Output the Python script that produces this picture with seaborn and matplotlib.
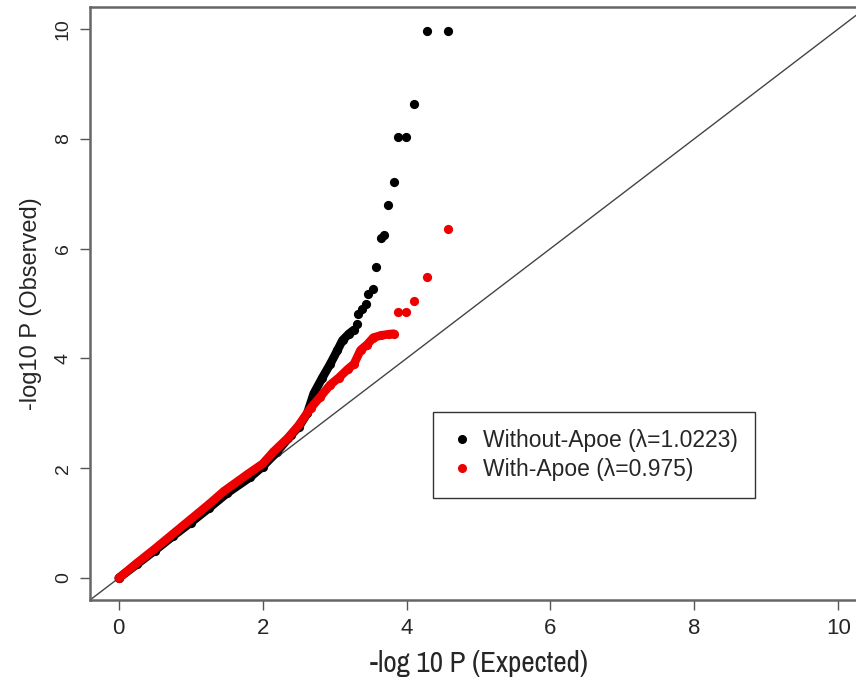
import numpy as np
import pandas as pd
import matplotlib
matplotlib.use("Agg")
import matplotlib.pyplot as plt
import seaborn as sns

# values
black_exp = [0.0, 0.25, 0.5, 0.75, 1.0, 1.25, 1.51, 1.83, 2.0, 2.2, 2.39, 2.5, 2.62, 2.71,
             2.83, 2.94, 3.04, 3.11, 3.2, 3.27, 3.31, 3.33, 3.38, 3.43, 3.47, 3.54, 3.58,
             3.64, 3.69, 3.74, 3.82, 3.88, 3.99, 4.11, 4.29, 4.58]
black_obs = [0.0, 0.25, 0.5, 0.76, 1.01, 1.27, 1.55, 1.84, 2.03, 2.3, 2.6, 2.75, 3.0, 3.36,
             3.65, 3.9, 4.15, 4.33, 4.45, 4.52, 4.62, 4.8, 4.9, 5.0, 5.18, 5.27, 5.67,
             6.2, 6.24, 6.8, 7.22, 8.04, 8.04, 8.64, 9.96, 9.96]

red_exp = [0.0, 0.25, 0.5, 0.75, 1.0, 1.25, 1.46, 1.8, 2.0, 2.15, 2.35, 2.5, 2.67, 2.8,
           2.94, 3.06, 3.18, 3.27, 3.36, 3.45, 3.54, 3.65, 3.75, 3.82, 3.88, 3.99, 4.10,
           4.29, 4.58]
red_obs = [0.0, 0.27, 0.53, 0.8, 1.07, 1.34, 1.58, 1.9, 2.08, 2.3, 2.55, 2.78, 3.1, 3.3,
           3.52, 3.65, 3.8, 3.9, 4.15, 4.25, 4.38, 4.42, 4.44, 4.45, 4.84, 4.84, 5.04,
           5.49, 6.36]

labels = ["Without-Apoe (\u03bb=1.0223)", "With-Apoe (\u03bb=0.975)"]
ticks = [0, 2, 4, 6, 8, 10]

black = pd.DataFrame({"exp": black_exp, "obs": black_obs})
red = pd.DataFrame({"exp": red_exp, "obs": red_obs})

sns.set_style("white")
plt.rcParams["font.family"] = ["Liberation Sans", "DejaVu Sans"]

fig = plt.figure(figsize=(8.56, 6.81), dpi=100)
ax = fig.add_axes([90 / 856, 81 / 681, 777 / 856, 593 / 681])

# dense part of each curve as a thick band, then all the points on top
sns.lineplot(data=black[black.exp <= 3.3], x="exp", y="obs", sort=False, estimator=None,
             color="black", lw=6.2, solid_capstyle="round", ax=ax)
sns.scatterplot(data=black, x="exp", y="obs", color="black", s=44, linewidth=0, ax=ax)
sns.lineplot(data=red[red.exp <= 3.82], x="exp", y="obs", sort=False, estimator=None,
             color="#ee0000", lw=6.2, solid_capstyle="round", ax=ax)
sns.scatterplot(data=red, x="exp", y="obs", color="#ee0000", s=44, linewidth=0, ax=ax)

ax.axline((0, 0), slope=1, color="#444444", lw=1, zorder=1)

ax.set_xlim(-0.4, 10.4)
ax.set_ylim(-0.4, 10.4)
ax.set_xticks(ticks)
ax.set_yticks(ticks)
ax.set_xticklabels([str(t) for t in ticks], fontsize=16)
ax.set_yticklabels([str(t) for t in ticks], rotation=90, va="center", fontsize=14)
ax.tick_params(axis="both", length=7, width=1, color="#555555", direction="out",
               bottom=True, left=True, pad=6)
for s in ax.spines.values():
    s.set_color("#666666")
    s.set_linewidth(1.8)

ax.set_xlabel("-log 10 P (Expected)", fontsize=21, labelpad=8,
              family=["Archivo Narrow", "Liberation Sans"])
ax.set_ylabel("-log10 P (Observed)", fontsize=17, labelpad=9)

h1 = plt.Line2D([], [], marker="o", ls="", color="black", markersize=5.5)
h2 = plt.Line2D([], [], marker="o", ls="", color="#ee0000", markersize=5.5)
leg = fig.legend([h1, h2], labels, loc="upper left", bbox_to_anchor=(433 / 856, 1 - 412 / 681),
                 fontsize=16.5, frameon=True, fancybox=False, edgecolor="black",
                 handletextpad=0.45, borderpad=0.75, labelspacing=0.25, handlelength=1.0,
                 borderaxespad=0)
leg.get_frame().set_linewidth(1)

fig.savefig("out.png", dpi=100)
